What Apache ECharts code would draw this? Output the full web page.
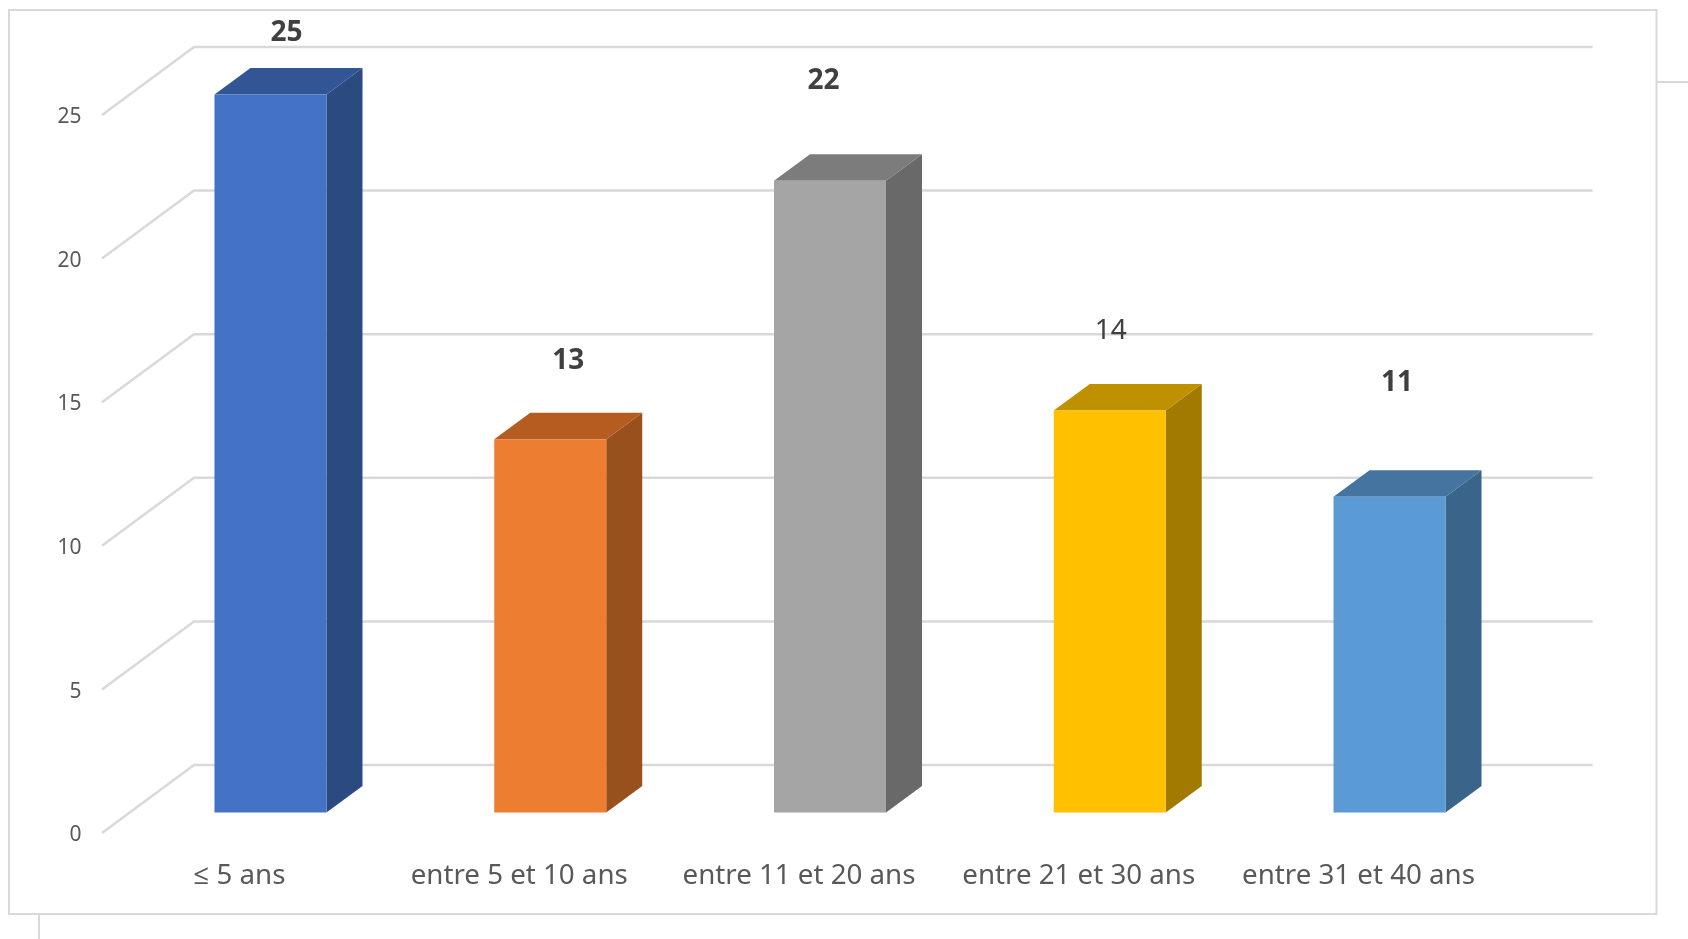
<!DOCTYPE html>
<html>
<head>
<meta charset="utf-8">
<style>html,body{margin:0;padding:0;background:#fff}#c{width:1688px;height:939px}</style>
<script src="https://cdn.jsdelivr.net/npm/echarts@6/dist/echarts.min.js"></script>
</head>
<body>
<div id="c"></div>
<script>
var categories = ['≤ 5 ans', 'entre 5 et 10 ans', 'entre 11 et 20 ans', 'entre 21 et 30 ans', 'entre 31 et 40 ans'];
var values = [25, 13, 22, 14, 11];
var ticks = [0, 5, 10, 15, 20, 25];

var frontColors = ['#4472C4', '#ED7D31', '#A5A5A5', '#FFC000', '#5B9BD5'];
var sideColors = ['#2A4A80', '#98501D', '#696969', '#A37A00', '#3A6489'];
var topColors = ['#325695', '#B55D20', '#7C7C7C', '#BF9000', '#44749F'];
var labelWeights = ['bold', 'bold', 'bold', 'normal', 'bold'];
var labelLifts = [62, 78, 100, 79, 114];
var labelShifts = [16, 18, -6.6, 1, 7.4];
var FONT = '"Noto Sans", "Open Sans", sans-serif';

var BAR_SHIFT_X = 31, BAR_SHIFT_Y = -20.4, HALF_W = 56, DEPTH_X = 36, DEPTH_Y = -26.5;
var WALL_X = 92, WALL_Y = -68, WALL_RIGHT = 1592.7;
var LINE = '#D9D9D9';

var chart = echarts.init(document.getElementById('c'), null, {renderer: 'canvas'});
chart.setOption({
  animation: false,
  backgroundColor: '#fff',
  grid: {left: 99.6, width: 1398.8, top: 115, bottom: 106, containLabel: false},
  xAxis: {
    type: 'category', data: categories,
    axisLine: {show: false}, axisTick: {show: false}, splitLine: {show: false},
    axisLabel: {color: '#595959', fontFamily: FONT, fontSize: 27.7, margin: 29, interval: 0}
  },
  yAxis: {
    type: 'value', min: 0, max: 25, interval: 5,
    axisLine: {show: false}, axisTick: {show: false}, splitLine: {show: false},
    axisLabel: {color: '#595959', fontFamily: FONT, fontSize: 21, margin: 18, verticalAlign: 'top', lineHeight: 4.4}
  },
  graphic: [
    {type: 'rect', shape: {x: 9, y: 10, width: 1647.5, height: 904}, style: {fill: 'none', stroke: LINE, lineWidth: 2}, silent: true, z: 0},
    {type: 'line', shape: {x1: 1657, y1: 82, x2: 1688, y2: 82}, style: {stroke: LINE, lineWidth: 2}, silent: true, z: 0},
    {type: 'line', shape: {x1: 39, y1: 915, x2: 39, y2: 939}, style: {stroke: LINE, lineWidth: 2}, silent: true, z: 0}
  ],
  series: [
    {
      type: 'custom', coordinateSystem: 'cartesian2d', clip: false, z: 1, silent: true,
      data: ticks.map(function (t) { return [0, t]; }),
      encode: {x: 0, y: 1},
      renderItem: function (params, api) {
        var y = api.coord([0, api.value(1)])[1];
        var x = 102;
        return {
          type: 'polyline',
          shape: {points: [[x, y], [x + WALL_X, y + WALL_Y], [WALL_RIGHT, y + WALL_Y]]},
          style: {stroke: LINE, lineWidth: 2.5, fill: 'none', lineJoin: 'round'}
        };
      }
    },
    {
      type: 'custom', coordinateSystem: 'cartesian2d', clip: false, z: 3, silent: true,
      data: values.map(function (v, i) { return [i, v]; }),
      encode: {x: 0, y: 1},
      renderItem: function (params, api) {
        var i = api.value(0), v = api.value(1);
        var p = api.coord([i, v]), p0 = api.coord([i, 0]);
        var cx = p[0] + BAR_SHIFT_X;
        var l = cx - HALF_W, r = cx + HALF_W;
        var t = p[1] + BAR_SHIFT_Y, b = p0[1] + BAR_SHIFT_Y;
        return {
          type: 'group',
          children: [
            {type: 'polygon', shape: {points: [[r, t], [r + DEPTH_X, t + DEPTH_Y], [r + DEPTH_X, b + DEPTH_Y], [r, b]]}, style: {fill: sideColors[i]}},
            {type: 'polygon', shape: {points: [[l, t], [l + DEPTH_X, t + DEPTH_Y], [r + DEPTH_X, t + DEPTH_Y], [r, t]]}, style: {fill: topColors[i]}},
            {type: 'rect', shape: {x: l, y: t, width: r - l, height: b - t}, style: {fill: frontColors[i]}},
            {type: 'text', style: {
              x: cx + labelShifts[i], y: t - labelLifts[i], text: String(v),
              fill: '#404040', fontFamily: FONT, fontSize: 28, fontWeight: labelWeights[i],
              align: 'center', verticalAlign: 'middle'
            }}
          ]
        };
      }
    }
  ]
});
</script>
</body>
</html>
